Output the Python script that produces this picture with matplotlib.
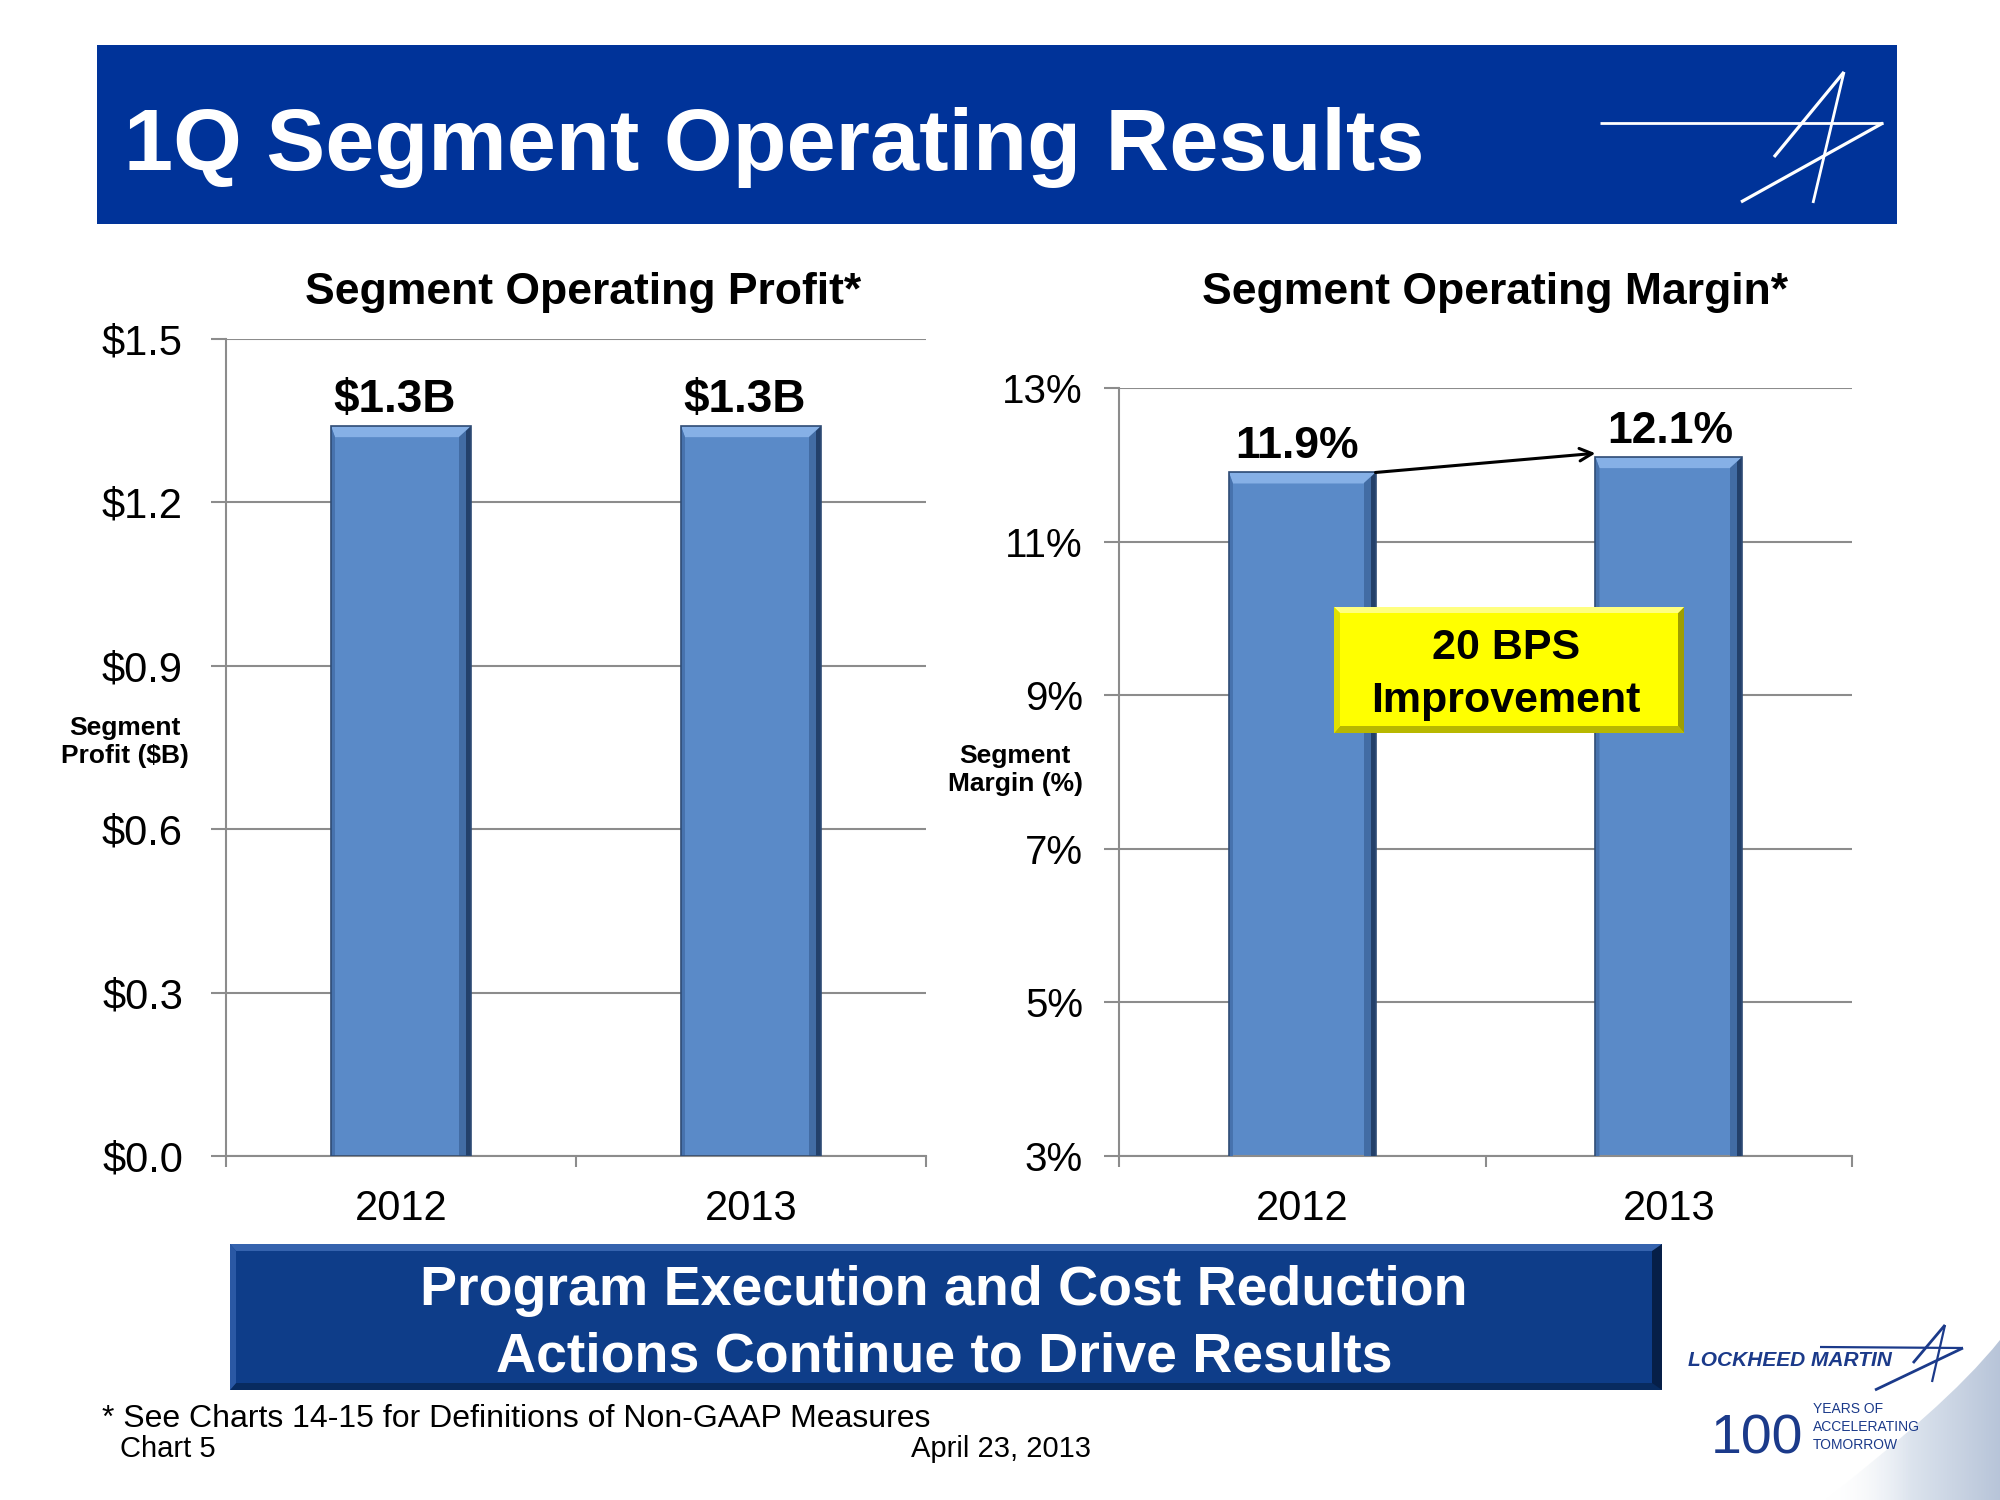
import matplotlib
matplotlib.use('Agg')
import matplotlib.pyplot as plt
import numpy as np
from matplotlib.patches import Rectangle, Polygon, PathPatch
from matplotlib.path import Path

plt.rcParams['font.family'] = ['Liberation Sans', 'DejaVu Sans']

# ---------------- data ----------------
years = ['2012', '2013']
profit = [1.34, 1.34]
profit_labels = ['$1.3B', '$1.3B']
margin = [11.9, 12.1]
margin_labels = ['11.9%', '12.1%']
profit_ticks = [0.0, 0.3, 0.6, 0.9, 1.2, 1.5]
margin_ticks = [3, 5, 7, 9, 11, 13]

W, H = 2000, 1500
fig = plt.figure(figsize=(20, 15), dpi=100)


def add_axes_px(l, t, r, b, **kw):
    return fig.add_axes([l / W, 1 - b / H, (r - l) / W, (b - t) / H], **kw)


BAR = '#5A8AC8'
GRID = '#8C8C8C'
NAVY = '#003399'


def style_axis(ax, ticks, labels, pad):
    ax.set_xlim(-0.5, 1.5)
    ax.set_ylim(ticks[0], ticks[-1])
    ax.set_yticks(ticks)
    ax.set_yticklabels(labels)
    ax.set_xticks([-0.5, 0.5, 1.5])
    ax.set_xticklabels([])
    ax.set_xticks([0, 1], minor=True)
    ax.set_xticklabels(years, minor=True)
    ax.tick_params(axis='x', which='minor', length=0, pad=24, labelsize=30)
    ax.tick_params(axis='x', which='major', length=8, width=1.5, color=GRID, direction='out')
    ax.tick_params(axis='y', length=11, width=1.5, color=GRID, pad=pad, labelsize=30)
    ax.grid(axis='y', color=GRID, lw=1.5)
    ax.set_axisbelow(True)
    for s in ['top', 'right']:
        ax.spines[s].set_visible(False)
    for s in ['left', 'bottom']:
        ax.spines[s].set_color(GRID)
        ax.spines[s].set_linewidth(1.5)
    ax.patch.set_alpha(0)


def bevel(ax, patches, dx, dy, top=11, right=12, left=4):
    for p in patches:
        x0, y0, w, h = p.get_x(), p.get_y(), p.get_width(), p.get_height()
        yt = y0 + h
        tp = [(x0, yt), (x0 + w, yt), (x0 + w - right * dx, yt - top * dy),
              (x0 + left * dx, yt - top * dy)]
        ax.add_patch(Polygon(tp, closed=True, fc='#86B0E6', ec='none', zorder=3))
        rp = [(x0 + w, yt), (x0 + w, y0), (x0 + w - right * dx, y0),
              (x0 + w - right * dx, yt - top * dy)]
        ax.add_patch(Polygon(rp, closed=True, fc='#426CA4', ec='none', zorder=3))
        rp2 = [(x0 + w, yt), (x0 + w, y0), (x0 + w - 5 * dx, y0),
               (x0 + w - 5 * dx, yt - 5 * dy)]
        ax.add_patch(Polygon(rp2, closed=True, fc='#23406A', ec='none', zorder=3))
        lp = [(x0, yt), (x0 + left * dx, yt - top * dy), (x0 + left * dx, y0), (x0, y0)]
        ax.add_patch(Polygon(lp, closed=True, fc='#4772AD', ec='none', zorder=3))
        ax.add_patch(Rectangle((x0, y0), w, h, fc='none', ec='#2F4C75', lw=1.2, zorder=4))


# ---------------- left chart ----------------
ax1 = add_axes_px(226, 339, 926, 1156)
x = np.arange(len(years))
b1 = ax1.bar(x, profit, width=0.4, color=BAR, zorder=2)
style_axis(ax1, profit_ticks, [f'${t:.1f}' for t in profit_ticks], pad=20)
bevel(ax1, b1, 2 / 700, 1.5 / 817)
for xi, v, lab in zip(x, profit, profit_labels):
    ax1.annotate(lab, (xi, v), xytext=(-6, 14), textcoords='offset pixels',
                 ha='center', va='baseline', fontsize=33, weight='bold', color='black')

# ---------------- right chart ----------------
ax2 = add_axes_px(1119, 388, 1852, 1156)
b2 = ax2.bar(x, margin, width=0.4, color=BAR, zorder=2)
style_axis(ax2, margin_ticks, [f'{t:d}%' for t in margin_ticks], pad=15)
ax2.tick_params(axis='y', labelsize=29)
bevel(ax2, b2, 2 / 733, 10 / 768)
for xi, v, lab, dxp in zip(x, margin, margin_labels, [-5, 2]):
    ax2.annotate(lab, (xi, v), xytext=(dxp, 14), textcoords='offset pixels',
                 ha='center', va='baseline', fontsize=32, weight='bold', color='black')
ax2.annotate('', xy=(x[1] - 0.2, margin[1] + 0.05), xytext=(x[0] + 0.2, margin[0]),
             arrowprops=dict(arrowstyle='->,head_length=0.9,head_width=0.45',
                             color='black', lw=2.2, shrinkA=0, shrinkB=0), zorder=6)

# ---------------- decorations overlay ----------------
ov = fig.add_axes([0, 0, 1, 1], zorder=10)
ov.set_xlim(0, W)
ov.set_ylim(H, 0)
ov.axis('off')
ov.patch.set_alpha(0)

# Title banner
ov.add_patch(Rectangle((97, 45), 1800, 179, fc=NAVY, ec='none'))
ov.text(124, 170, '1Q Segment Operating Results', fontsize=63.5, weight='bold',
        color='white', ha='left', va='baseline')
# header star logo
for (xa, ya, xb, yb, lw) in [(1600, 123, 1883, 123, 2.0), (1883, 123, 1741, 202, 2.3),
                             (1844, 72, 1774, 157, 2.3), (1844, 72, 1813, 203, 2.0)]:
    ov.plot([xa, xb], [ya, yb], color='white', lw=lw, solid_capstyle='butt')

# chart titles
ov.text(583, 304, 'Segment Operating Profit*', fontsize=32, weight='bold',
        ha='center', va='baseline')
ov.text(1495, 304, 'Segment Operating Margin*', fontsize=32, weight='bold',
        ha='center', va='baseline')
# y labels
ov.text(125, 742, 'Segment\nProfit ($B)', fontsize=19, weight='bold', ha='center',
        va='center', linespacing=1.25)
ov.text(1015, 770, 'Segment\nMargin (%)', fontsize=19, weight='bold', ha='center',
        va='center', linespacing=1.25)

# yellow callout box
ov.add_patch(Rectangle((1334, 607), 350, 126, fc='#FFFF00', ec='none'))
ov.add_patch(Polygon([(1334, 733), (1684, 733), (1678, 726), (1340, 726)], fc='#B8B800', ec='none'))
ov.add_patch(Polygon([(1684, 607), (1684, 733), (1678, 726), (1678, 613)], fc='#9E9E00', ec='none'))
ov.add_patch(Polygon([(1334, 607), (1684, 607), (1678, 613), (1340, 613)], fc='#FFFF80', ec='none'))
ov.add_patch(Polygon([(1334, 607), (1340, 613), (1340, 726), (1334, 733)], fc='#E0E000', ec='none'))
ov.text(1506, 659, '20 BPS', fontsize=31, weight='bold', ha='center', va='baseline')
ov.text(1506, 712, 'Improvement', fontsize=31, weight='bold', ha='center', va='baseline')

# bottom banner
ov.add_patch(Rectangle((230, 1244), 1432, 146, fc='#0E3D89', ec='none'))
ov.add_patch(Polygon([(230, 1244), (1662, 1244), (1655, 1251), (236, 1251)], fc='#3563AE', ec='none'))
ov.add_patch(Polygon([(230, 1390), (1662, 1390), (1655, 1383), (236, 1383)], fc='#082B60', ec='none'))
ov.add_patch(Polygon([(1662, 1244), (1662, 1390), (1652, 1383), (1652, 1251)], fc='#061F48', ec='none'))
ov.add_patch(Polygon([(230, 1244), (236, 1251), (236, 1383), (230, 1390)], fc='#2A58A4', ec='none'))
ov.text(944, 1305, 'Program Execution and Cost Reduction', fontsize=40, weight='bold',
        color='white', ha='center', va='baseline')
ov.text(944, 1371, 'Actions Continue to Drive Results', fontsize=40, weight='bold',
        color='white', ha='center', va='baseline')

# footnotes
ov.text(102, 1427, '* See Charts 14-15 for Definitions of Non-GAAP Measures', fontsize=23,
        ha='left', va='baseline')
ov.text(120, 1457, 'Chart 5', fontsize=21, ha='left', va='baseline')
ov.text(1091, 1457, 'April 23, 2013', fontsize=21, ha='right', va='baseline')

# bottom-right swoosh
grad = np.linspace(0, 1, 256).reshape(1, -1)
cmap = matplotlib.colors.LinearSegmentedColormap.from_list(
    'sw', [(1, 1, 1, 0), (0.86, 0.89, 0.93, 1), (0.72, 0.77, 0.85, 1)])
verts = [(1825, 1500), (1900, 1440), (1960, 1390), (2000, 1340), (2000, 1500), (1825, 1500)]
codes = [Path.MOVETO, Path.CURVE4, Path.CURVE4, Path.CURVE4, Path.LINETO, Path.CLOSEPOLY]
sw = PathPatch(Path(verts, codes), fc='none', ec='none')
ov.add_patch(sw)
im = ov.imshow(grad, extent=(1825, 2000, 1500, 1340), cmap=cmap, aspect='auto', zorder=1)
im.set_clip_path(sw)
ov.set_xlim(0, W)
ov.set_ylim(H, 0)

# Lockheed Martin logo
LMB = '#1B3A8A'
ov.text(1688, 1366, 'LOCKHEED MARTIN', fontsize=15, weight='bold', style='italic',
        color=LMB, ha='left', va='baseline', zorder=3)
for (xa, ya, xb, yb, lw) in [(1820, 1347, 1963, 1348, 1.6), (1963, 1348, 1875, 1390, 2.0),
                             (1945, 1325, 1913, 1363, 2.0), (1945, 1325, 1932, 1382, 1.6)]:
    ov.plot([xa, xb], [ya, yb], color=LMB, lw=lw, solid_capstyle='butt', zorder=3)
ov.text(1711, 1453, '100', fontsize=40, color=LMB, ha='left', va='baseline', zorder=3)
ov.text(1813, 1413, 'YEARS OF', fontsize=10, color=LMB, ha='left', va='baseline', zorder=3)
ov.text(1813, 1431, 'ACCELERATING', fontsize=10, color=LMB, ha='left', va='baseline', zorder=3)
ov.text(1813, 1449, 'TOMORROW', fontsize=10, color=LMB, ha='left', va='baseline', zorder=3)

fig.savefig('out.png', dpi=100)
